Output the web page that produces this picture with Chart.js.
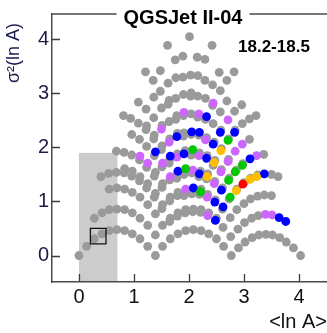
<!DOCTYPE html>
<html>
<head>
<meta charset="utf-8">
<script src="https://cdn.jsdelivr.net/npm/chart.js@4.4.1/dist/chart.umd.min.js"></script>
<style>
  html, body { margin: 0; padding: 0; background: #ffffff; overflow: hidden; }
  #wrap { position: relative; width: 327px; height: 333px; }
</style>
</head>
<body>
<div id="wrap"><canvas id="chart" width="327" height="333"></canvas></div>
<script>
// Composition mixtures: mean <ln A> versus variance sigma^2(ln A)
const grayPoints = [
  [0,0],[0.14,0.17],[0.28,0.31],[0.42,0.40],[0.55,0.46],[0.69,0.48],[0.83,0.46],[0.97,0.40],[1.11,0.31],[1.25,0.17],[1.39,0],
  [0.28,0.69],[0.42,0.79],[0.55,0.85],[0.69,0.86],[0.83,0.85],[0.97,0.79],[1.11,0.69],[1.25,0.56],[1.39,0.38],[1.52,0.17],
  [0.55,1.23],[0.69,1.25],[0.83,1.23],[0.97,1.17],[1.11,1.08],[1.25,0.94],[1.39,0.77],[1.52,0.56],[1.66,0.31],
  [0.83,1.61],[0.97,1.56],[1.11,1.46],[1.25,1.33],[1.39,1.15],[1.52,0.94],[1.66,0.69],[1.80,0.40],
  [1.39,1.54],[1.52,1.33],[1.66,1.08],[1.80,0.79],[1.94,0.46],
  [1.80,1.17],[1.94,0.85],[2.08,0.48],
  [2.08,0.86],[2.22,0.46],
  [2.22,0.85],[2.36,0.40],
  [2.22,1.23],[2.36,0.79],[2.50,0.31],
  [2.50,0.69],[2.63,0.17],
  [2.77,0],
  [0.40,1.46],[0.54,1.52],[0.68,1.54],[0.82,1.53],[0.96,1.47],[1.10,1.38],[1.23,1.25],[1.37,1.08],[1.51,0.87],[1.65,0.63],
  [0.68,1.93],[0.82,1.91],[0.96,1.86],[1.10,1.77],[1.23,1.63],[1.37,1.47],[1.51,1.26],[1.65,1.01],[1.79,0.73],
  [0.96,2.24],[1.10,2.15],[1.23,2.02],[1.37,1.85],[1.51,1.64],[1.65,1.40],[1.79,1.11],[1.93,0.79],
  [1.23,2.40],[1.37,2.23],[1.51,2.03],[1.65,1.78],[1.79,1.50],[1.93,1.17],[2.07,0.81],
  [1.51,2.41],[1.65,2.16],[1.79,1.88],[1.93,1.56],[2.07,1.20],[2.21,0.80],
  [1.79,2.26],[1.93,1.94],
  [2.21,1.56],[2.34,1.13],
  [2.34,1.51],[2.48,1.03],[2.62,0.52],
  [2.76,0.35],
  [2.90,0.14],
  [0.81,2.59],[0.94,2.54],[1.08,2.45],[1.22,2.33],[1.36,2.16],[1.50,1.96],[1.64,1.71],[1.78,1.43],[1.91,1.11],
  [1.08,2.84],[1.22,2.71],[1.36,2.55],[1.91,1.50],[2.05,1.14],
  [1.36,2.93],[1.50,2.73],[1.64,2.48],[2.05,1.53],[2.19,1.13],
  [1.64,2.87],[1.78,2.59],[1.91,2.27],[2.05,1.91],
  [2.19,1.90],
  [2.33,1.85],[2.47,1.37],[2.61,0.86],
  [2.47,1.76],[2.61,1.25],[2.75,0.70],
  [2.89,0.49],
  [3.02,0.25],
  [1.21,3.40],[1.35,3.24],[1.48,3.04],[1.62,2.80],[1.76,2.52],[1.90,2.21],[2.04,1.86],[2.18,1.46],
  [1.48,3.42],[1.62,3.19],[1.76,2.91],[1.90,2.59],[2.04,2.24],[2.32,1.42],
  [1.76,3.29],[1.90,2.98],[2.04,2.62],[2.18,2.23],
  [2.04,3.01],[2.32,2.18],
  [2.46,2.10],[2.59,1.59],[2.73,1.05],
  [2.59,1.98],[2.73,1.43],[2.87,0.85],
  [2.87,1.23],[3.01,0.61],
  [3.15,0.33],
  [1.61,3.89],[1.75,3.62],[1.89,3.30],[2.03,2.95],[2.16,2.56],[2.44,1.67],
  [1.89,3.69],[2.03,3.34],[2.16,2.95],[2.30,2.52],
  [2.16,3.33],[2.30,2.91],[2.44,2.44],
  [2.58,2.32],[2.72,1.78],
  [2.72,2.16],[2.86,1.58],[3.00,0.96],
  [3.00,1.35],[3.14,0.69],
  [3.27,0.38],
  [2.01,4.05],[2.15,3.67],[2.29,3.24],[2.43,2.78],
  [2.29,3.63],[2.43,3.16],[2.57,2.66],
  [2.57,3.05],
  [2.84,2.32],[2.98,1.70],[3.12,1.05],
  [3.12,1.43],[3.26,0.74],
  [3.40,0.39],
  [2.42,3.89],[2.55,3.39],[2.69,2.86],
  [2.69,3.24],[2.83,2.67],
  [2.97,2.44],[3.25,1.10],
  [3.25,1.49],
  [3.52,0.38],
  [2.82,3.40],[2.96,2.79],[3.10,2.15],
  [3.10,2.53],[3.37,1.12],
  [3.65,0.33],
  [3.22,2.59],[3.36,1.87],[3.50,1.11],[3.50,1.50],[3.77,0.25],
  [3.62,1.46],[3.90,0.14],
  [4.03,0]
];
const purplePoints = [
  [2.44,2.82],[1.91,2.65],[2.18,2.62],[1.50,2.34],[2.71,2.51],[2.30,2.14],[1.11,1.84],[1.25,1.71],
  [1.52,1.71],[1.78,1.82],[2.97,2.06],[2.84,1.93],[2.71,1.74],[3.23,1.85],[1.66,1.46],[2.07,1.58],
  [2.58,1.55],[1.94,1.23],[2.34,0.74],[3.39,0.76],[3.51,0.75],[1.64,2.10],[2.18,1.85],[2.33,1.08],
  [2.46,1.33]
];
const bluePoints = [
  [1.39,1.92],[1.66,1.84],[1.91,1.88],[1.78,2.20],[2.05,2.29],[2.19,2.28],[2.32,2.57],[2.57,2.28],
  [2.83,2.28],[2.44,2.06],[2.32,1.80],[3.11,1.79],[1.80,1.56],[2.19,1.51],[2.08,1.25],[2.47,0.99],
  [2.48,0.65],[3.37,1.51],[3.64,0.70],[3.76,0.63],[2.62,0.90],[2.59,1.21]
];
const greenPoints = [
  [1.94,1.61],[2.07,1.96],[2.21,1.18],[2.71,2.13],[2.97,1.67],[2.84,1.55],[2.72,1.39],[2.75,1.08]
];
const orangePoints = [
  [2.46,1.72],[2.58,1.94],[2.33,1.46],[3.11,1.41],[3.23,1.46],[2.86,1.20]
];
const redPoints = [
  [2.98,1.32]
];
const markerPoint = [[0.35,0.36]];

const xTicks = [0, 1, 2, 3, 4];
const yTicks = [0, 1, 2, 3, 4];
const shadedX = [0, 0.7];
const shadedTop = 1.9;

const titleText = 'QGSJet II-04';
const energyText = '18.2-18.5';
const xTitle = '<ln A>';
const yTitle = 'σ²(ln A)';

const FONT = '"Liberation Sans", Arial, Helvetica, sans-serif';
const toXY = arr => arr.map(p => ({ x: p[0], y: p[1] }));

function dots(data, color) {
  return {
    data: toXY(data),
    backgroundColor: color,
    borderWidth: 0,
    pointRadius: 4.4,
    pointHoverRadius: 4.4
  };
}

const decorations = {
  id: 'decorations',
  beforeDatasetsDraw(chart) {
    const { ctx, chartArea, scales: { x, y } } = chart;
    const l = x.getPixelForValue(shadedX[0]);
    const r = x.getPixelForValue(shadedX[1]);
    const t = y.getPixelForValue(shadedTop);
    ctx.save();
    ctx.fillStyle = '#cccccc';
    ctx.fillRect(l, t, r - l, chartArea.bottom - 1 - t);
    ctx.restore();
  },
  afterDraw(chart) {
    const { ctx, chartArea, scales: { x, y } } = chart;
    ctx.save();
    // inward tick marks
    ctx.strokeStyle = '#3c3c3c';
    ctx.lineWidth = 1.3;
    ctx.beginPath();
    xTicks.forEach(v => {
      const px = Math.round(x.getPixelForValue(v)) + 0.5;
      ctx.moveTo(px, chartArea.bottom);
      ctx.lineTo(px, chartArea.bottom - 8);
    });
    yTicks.forEach(v => {
      const py = Math.round(y.getPixelForValue(v)) + 0.5;
      ctx.moveTo(chartArea.left, py);
      ctx.lineTo(chartArea.left + 8, py);
    });
    ctx.stroke();

    // title sitting on the top frame line
    ctx.font = 'bold 20px ' + FONT;
    const tw = ctx.measureText(titleText).width;
    const tcx = 183;
    ctx.strokeStyle = '#4a4a4a';
    ctx.lineWidth = 1.5;
    ctx.beginPath();
    ctx.moveTo(chartArea.left, chartArea.top);
    ctx.lineTo(tcx - tw / 2 - 7, chartArea.top);
    ctx.moveTo(tcx + tw / 2 + 7, chartArea.top);
    ctx.lineTo(chartArea.right, chartArea.top);
    ctx.stroke();
    ctx.fillStyle = '#000000';
    ctx.textAlign = 'center';
    ctx.textBaseline = 'alphabetic';
    ctx.fillText(titleText, tcx, 24);

    // energy bin
    ctx.font = 'bold 17px ' + FONT;
    ctx.textAlign = 'left';
    ctx.fillText(energyText, 238, 52);

    // axis titles
    ctx.font = '20px ' + FONT;
    ctx.fillStyle = '#111111';
    ctx.textAlign = 'right';
    ctx.fillText(xTitle, 327, 327.5);

    ctx.font = '18px ' + FONT;
    ctx.fillStyle = '#1c1c50';
    ctx.translate(19, 83);
    ctx.rotate(-Math.PI / 2);
    ctx.textAlign = 'left';
    ctx.fillText(yTitle, 0, 0);
    ctx.restore();
  }
};

new Chart(document.getElementById('chart'), {
  type: 'scatter',
  data: {
    datasets: [
      {
        data: toXY(markerPoint),
        pointStyle: 'rect',
        pointRadius: 11,
        pointHoverRadius: 11,
        backgroundColor: 'rgba(0,0,0,0)',
        borderColor: '#111111',
        borderWidth: 1.3
      },
      dots(redPoints, '#ff0000'),
      dots(orangePoints, '#ffbf00'),
      dots(greenPoints, '#00c800'),
      dots(bluePoints, '#0000ff'),
      dots(purplePoints, '#cc66ff'),
      dots(grayPoints, '#9a9a9a')
    ]
  },
  options: {
    responsive: false,
    animation: false,
    devicePixelRatio: 1,
    layout: { autoPadding: false, padding: { top: 14, right: 0, left: 0, bottom: 0 } },
    plugins: { legend: { display: false }, title: { display: false }, tooltip: { enabled: false } },
    events: [],
    scales: {
      x: {
        type: 'linear',
        min: -0.49,
        max: 4.51,
        afterBuildTicks: s => { s.ticks = xTicks.map(v => ({ value: v })); },
        afterFit: s => { s.height = 51; s.paddingLeft = 0; s.paddingRight = 0; },
        grid: { display: false, drawTicks: false, tickLength: 0 },
        border: { display: true, color: '#4a4a4a', width: 1.5 },
        ticks: { font: { family: FONT, size: 20 }, color: '#111111', padding: 3, maxRotation: 0 }
      },
      y: {
        type: 'linear',
        min: -0.49,
        max: 4.47,
        afterBuildTicks: s => { s.ticks = yTicks.map(v => ({ value: v })); },
        afterFit: s => { s.width = 52; s.paddingTop = 0; s.paddingBottom = 0; },
        grid: { display: false, drawTicks: false, tickLength: 0 },
        border: { display: true, color: '#4a4a4a', width: 1.5 },
        ticks: { font: { family: FONT, size: 20 }, color: '#1c1c45', padding: 3 }
      }
    }
  },
  plugins: [decorations]
});
</script>
</body>
</html>
